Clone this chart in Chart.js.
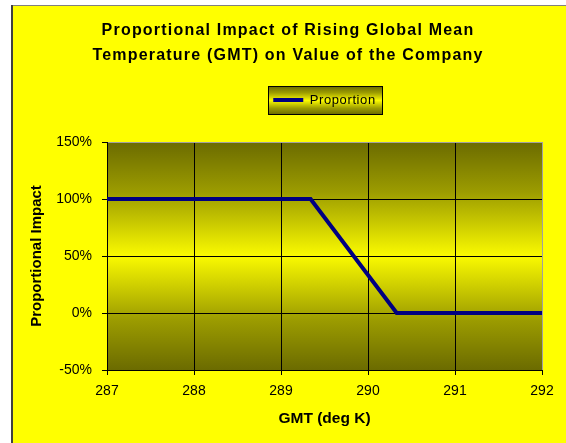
<!DOCTYPE html>
<html>
<head>
<meta charset="utf-8">
<script src="https://cdn.jsdelivr.net/npm/chart.js@4/dist/chart.umd.min.js"></script>
<style>
  html, body { margin: 0; padding: 0; background: #fff; }
  canvas { display: block; }
</style>
</head>
<body>
<canvas id="grafico" width="566" height="443"></canvas>
<script>
// datos
const gmt = [287, 289.34, 290.33, 292];
const proportion = [1, 1, 0, 0];
const xTicks = [287, 288, 289, 290, 291, 292];
const yTicks = [-0.5, 0, 0.5, 1, 1.5];
const titleLines = ['Proportional Impact of Rising Global Mean', 'Temperature (GMT) on Value of the Company'];

const FONT = "'Liberation Sans', Arial, sans-serif";

function olive(ctx, top, bottom) {
  const g = ctx.createLinearGradient(0, top, 0, bottom);
  g.addColorStop(0, '#6b6b00');
  g.addColorStop(0.22, '#9c9c00');
  g.addColorStop(0.5, '#fafa00');
  g.addColorStop(0.78, '#9c9c00');
  g.addColorStop(1, '#6b6b00');
  return g;
}

// espaciado de letras solo para titulo y leyenda
function conEspaciado(box, espacio) {
  if (!box || box._espaciado) return;
  box._espaciado = true;
  ['fit', 'draw'].forEach((m) => {
    if (typeof box[m] !== 'function') return;
    const orig = box[m].bind(box);
    box[m] = function (...args) {
      const c = box.ctx;
      c.letterSpacing = espacio;
      const res = orig(...args);
      c.letterSpacing = '0px';
      return res;
    };
  });
}

const fondo = {
  id: 'fondo',
  beforeLayout(chart) {
    conEspaciado(chart.titleBlock, '1.2px');
    conEspaciado(chart.legend, '0.6px');
  },
  beforeDraw(chart) {
    const ctx = chart.ctx;
    ctx.save();
    ctx.fillStyle = '#ffffff';
    ctx.fillRect(0, 0, chart.width, chart.height);
    ctx.fillStyle = '#ffff00';
    ctx.fillRect(12, 6, chart.width - 12, chart.height - 6);
    ctx.fillStyle = '#808080';
    ctx.fillRect(11, 5, chart.width - 11, 1);
    ctx.fillStyle = '#404040';
    ctx.fillRect(11, 5, 2, chart.height - 5);

    const a = chart.chartArea;
    ctx.fillStyle = olive(ctx, a.top, a.bottom);
    ctx.fillRect(a.left, a.top, a.right - a.left, a.bottom - a.top);

    // marco de la leyenda
    const hb = chart.legend.legendHitBoxes[0];
    if (hb) {
      const cy = hb.top + hb.height / 2;
      const l = Math.round(hb.left) - 4.5, r = Math.round(hb.left + hb.width) + 6.5;
      const t = Math.round(cy) - 13.5, b = Math.round(cy) + 14.5;
      ctx.fillStyle = olive(ctx, t, b);
      ctx.fillRect(l, t, r - l, b - t);
      ctx.strokeStyle = '#000';
      ctx.lineWidth = 1;
      ctx.strokeRect(l, t, r - l, b - t);
    }
    ctx.restore();
  }
};

const ctx = document.getElementById('grafico').getContext('2d');
const grafico = new Chart(ctx, {
  type: 'line',
  data: {
    datasets: [{
      label: 'Proportion',
      data: gmt.map((g, i) => ({ x: g, y: proportion[i] })),
      borderColor: '#000080',
      backgroundColor: '#000080',
      borderWidth: 4,
      pointRadius: 0,
      tension: 0,
      borderJoinStyle: 'miter'
    }]
  },
  options: {
    responsive: false,
    animation: false,
    layout: { padding: { left: 34, right: 24, top: 0, bottom: 0 } },
    plugins: {
      title: {
        display: true,
        text: titleLines,
        color: '#000',
        font: { family: FONT, size: 16, weight: 'bold', lineHeight: 25 / 16 },
        padding: { top: 18.5, bottom: 15 }
      },
      subtitle: {
        display: true,
        text: '',
        weight: 500,
        font: { size: 10, lineHeight: 1 },
        padding: { top: 0, bottom: 15.5 }
      },
      legend: {
        display: true,
        position: 'top',
        fullSize: false,
        labels: {
          usePointStyle: true,
          pointStyle: 'line',
          pointStyleWidth: 30,
          padding: 10,
          color: '#000',
          font: { family: FONT, size: 13 }
        }
      },
      tooltip: { enabled: false }
    },
    scales: {
      x: {
        type: 'linear',
        min: 287,
        max: 292,
        afterBuildTicks: (s) => { s.ticks = xTicks.map(v => ({ value: v })); },
        afterFit: (s) => { s.height = 73; },
        grid: {
          color: (c) => c.tick && c.tick.value === 292 ? '#a0a0a0' : '#000',
          tickColor: '#000',
          tickLength: 5,
          lineWidth: 1
        },
        border: { display: true, color: '#000', width: 1 },
        ticks: {
          color: '#000',
          padding: 8,
          maxRotation: 0,
          font: { family: FONT, size: 14 }
        },
        title: {
          display: true,
          text: 'GMT (deg K)',
          color: '#000',
          font: { family: FONT, size: 15.5, weight: 'bold', lineHeight: 1.2 },
          padding: { top: 0, bottom: 15 }
        }
      },
      y: {
        min: -0.5,
        max: 1.5,
        afterBuildTicks: (s) => { s.ticks = yTicks.map(v => ({ value: v })); },
        afterFit: (s) => { s.width = 73; },
        grid: {
          color: (c) => c.tick && c.tick.value === 1.5 ? '#a0a0a0' : '#000',
          tickColor: '#000',
          tickLength: 5,
          lineWidth: 1
        },
        border: { display: true, color: '#000', width: 1 },
        ticks: {
          color: '#000',
          padding: 10,
          font: { family: FONT, size: 14 },
          callback: (v) => Math.round(v * 100) + '%'
        },
        title: {
          display: true,
          text: 'Proportional Impact',
          color: '#000',
          font: { family: FONT, size: 15, weight: 'bold', lineHeight: 1.2 },
          padding: { top: -6, bottom: 0 }
        }
      }
    }
  },
  plugins: [fondo]
});
</script>
</body>
</html>
